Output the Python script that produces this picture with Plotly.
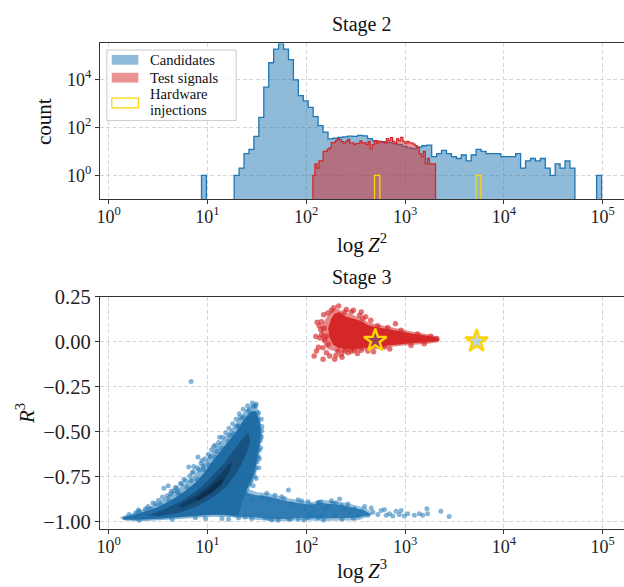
import numpy as np
import plotly.graph_objects as go

# ---------------- Stage 2 : histograms of log Z^2 ----------------
# candidates: 0.05-decade logarithmic bins for the main block
cand_log_start = 1.27
cand_log_width = 0.05
cand_counts = [1, 2, 8, 12, 42, 257, 4700, 49000, 182000, 305000,
               182000, 66000, 9500, 2100, 1260, 680, 280, 118, 63, 33,
               35, 38, 40, 43, 42, 46, 44, 34, 28, 26,
               25, 23, 21, 19, 16, 14, 13, 15, 17, 18,
               6, 8, 11, 8, 6, 5, 7, 4, 7, 12,
               10, 8, 8, 8, 6, 6, 6, 8, 2, 4,
               5, 4, 5, 2, 1, 3, 2, 4, 2]
# two isolated candidate bins
cand_iso_lo = [8.7, 87000]
cand_iso_hi = [9.75, 97700]
cand_iso_counts = [1, 1]

# test signals
sig_log_lo, sig_log_hi = 2.067, 3.309
sig_counts = [1, 3, 2, 4, 4, 10, 10, 12, 14, 23,
              23, 28, 34, 30, 25, 22, 26, 31, 22, 23,
              19, 21, 22, 27, 22, 23, 19, 26, 13, 19,
              28, 22, 26, 24, 23, 22, 34, 28, 37, 26,
              22, 34, 28, 38, 26, 22, 26, 23, 22, 20,
              17, 15, 8, 6, 10, 3, 5, 3, 3, 3]

# hardware injections
hw_lo = [491, 5224]
hw_hi = [556, 5861]
hw_counts = [1, 1]

# ---------------- Stage 3 : log Z^3 vs R^3 ----------------
# candidate population: outer halo, dense body, tail and cores (filled outlines)
cand_halo_z = [1.30, 1.7, 2.3, 2.9, 3.6, 4.5, 5.7, 7.2, 9.0, 10.6,
               12.5, 14.6, 17.0, 19.2, 21.5, 24.2, 27.5, 31.0, 33.8, 35.5,
               34.8, 33.5, 31.8, 29.5, 27.0, 25.0, 22.0, 20.6, 11.1, 7.54,
               5.12, 3.48, 2.36, 1.735, 1.40]
cand_halo_r = [-0.975, -0.955, -0.928, -0.905, -0.872, -0.835, -0.795, -0.745, -0.680, -0.625,
               -0.578, -0.535, -0.490, -0.455, -0.415, -0.380, -0.352, -0.352, -0.400, -0.490,
               -0.560, -0.625, -0.690, -0.760, -0.810, -0.845, -0.900, -0.975, -0.972, -0.978,
               -0.985, -0.990, -0.995, -0.995, -0.990]
cand_body_z = [1.375, 1.735, 2.364, 2.981, 3.759, 4.743, 5.98, 7.54, 9.51, 11.10,
               12.96, 15.12, 17.66, 19.83, 22.27, 25.00, 28.08, 30.81, 33.30, 34.86,
               33.81, 32.28, 30.81, 28.51, 25.99, 24.43, 22.0, 20.6, 11.1, 7.54,
               5.12, 3.48, 2.36, 1.735, 1.43]
cand_body_r = [-0.977, -0.964, -0.942, -0.924, -0.897, -0.865, -0.828, -0.783, -0.720, -0.666,
               -0.620, -0.575, -0.530, -0.494, -0.449, -0.412, -0.385, -0.385, -0.430, -0.503,
               -0.566, -0.629, -0.693, -0.756, -0.801, -0.837, -0.900, -0.964, -0.961, -0.968,
               -0.975, -0.982, -0.988, -0.989, -0.986]
cand_tail_halo_z = [20.0, 26.0, 32.0, 42.0, 60.0, 85.0, 115, 145, 245, 400,
                    480, 340, 145, 85, 52, 32, 18]
cand_tail_halo_r = [-0.88, -0.818, -0.836, -0.842, -0.866, -0.879, -0.890, -0.878, -0.893, -0.922,
                    -0.958, -0.992, -0.995, -0.992, -0.997, -0.990, -0.975]
cand_tail_z = [17.0, 24.43, 30.81, 41.98, 60.85, 82.9, 112.9, 142.6, 244, 389,
               454, 333, 142.6, 82.9, 52.1, 32.8, 20.6, 15.0]
cand_tail_r = [-0.90, -0.837, -0.852, -0.859, -0.883, -0.895, -0.906, -0.895, -0.910, -0.937,
               -0.960, -0.978, -0.982, -0.979, -0.986, -0.977, -0.970, -0.962]
cand_core1_z = [2.55, 3.76, 5.54, 8.15, 11.1, 15.12, 19.08, 23.14, 25.99, 27.02,
                24.06, 20.61, 16.34, 12.0, 8.15, 5.12, 3.22]
cand_core1_r = [-0.964, -0.928, -0.883, -0.819, -0.747, -0.666, -0.593, -0.530, -0.503, -0.557,
                -0.638, -0.711, -0.792, -0.855, -0.910, -0.950, -0.969]
cand_core2_z = [5.12, 7.54, 10.3, 12.96, 15.72, 17.66, 16.99, 14.55, 11.1, 7.54, 5.54]
cand_core2_r = [-0.910, -0.855, -0.801, -0.747, -0.693, -0.666, -0.711, -0.774, -0.837, -0.892, -0.924]
cand_core3_z = [7.54, 10.3, 12.96, 14.55, 14.0, 11.1, 8.15]
cand_core3_r = [-0.874, -0.819, -0.774, -0.756, -0.792, -0.837, -0.883]

# individual candidates around the body and along the tail
cand_pts_z = [6.82, 3.62, 4.74, 5.32, 4.22, 6.46, 7.26, 8.15, 8.80, 6.98,
              11.54, 13.26, 10.68, 5.75, 4.56, 2.98, 2.36, 1.875, 21.4, 24.06,
              27.02, 29.2, 30.8, 32.8, 35.4, 34.3, 32.8, 30.8, 29.9, 26.4,
              66.0, 39.8, 48.3, 56.3, 82.9, 104.6, 131.9, 42.0, 52.1, 20.6,
              7.54, 14.0, 24.06, 82.9, 131.9, 112.9, 71.0, 42.0, 35.4, 28.08,
              23.14, 1.735, 1.486, 2.19,
              1.606, 2.026, 2.655, 3.348, 4.062, 5.12, 6.218, 7.839, 9.15, 10.27,
              11.99, 14.0, 16.34, 18.35, 20.61, 23.14, 25.99, 32.28, 34.59, 33.30,
              31.78, 29.64, 27.65,
              2.026, 4.39, 9.51, 16.34, 28.08, 38.24, 66.0, 104.6,
              96.7, 113, 132, 153.8, 179.6, 186.8, 217.8, 194, 244.5, 285.7,
              308.5, 360.4, 421, 454.4, 472.6, 573, 643.8, 694.9, 811.6, 876.1,
              984, 1065, 1241, 1394, 1508, 1666, 1693, 2306, 2795, 104.6,
              121.9, 142.5, 166.4, 226.5, 264.7, 333.8, 389, 531, 618.6, 751.6,
              911.5,
              2.0, 2.5, 2.8, 3.2, 3.9, 4.3, 4.9, 5.5, 6.0, 6.6,
              7.2, 7.9, 8.6, 9.4, 10.2, 11.0, 12.0, 13.0, 14.2, 15.3,
              16.5, 18.0, 19.5, 21.0, 23.0, 25.5, 28.5, 31.0, 35.0, 35.5,
              35.0, 34.5, 33.5, 33.0, 31.0, 29.0, 3.5, 5.0, 6.8, 9.0,
              12.5, 17.0, 20.0, 4.0, 8.0,
              45, 70, 95, 150, 230, 300, 60, 90, 140, 200]
cand_pts_r = [-0.221, -0.814, -0.810, -0.787, -0.846, -0.696, -0.693, -0.711, -0.660, -0.729,
              -0.581, -0.530, -0.638, -0.765, -0.828, -0.900, -0.928, -0.950, -0.421, -0.439,
              -0.403, -0.358, -0.355, -0.394, -0.494, -0.548, -0.638, -0.702, -0.747, -0.792,
              -0.823, -0.841, -0.852, -0.861, -0.877, -0.888, -0.901, -0.982, -0.991, -0.978,
              -0.978, -0.982, -0.973, -0.986, -0.978, -0.964, -0.900, -0.883, -0.864, -0.874,
              -0.837, -0.973, -0.979, -0.960,
              -0.960, -0.941, -0.928, -0.906, -0.883, -0.846, -0.810, -0.765, -0.711, -0.684,
              -0.642, -0.593, -0.552, -0.512, -0.467, -0.421, -0.382, -0.458, -0.521, -0.602,
              -0.666, -0.720, -0.774,
              -0.991, -0.986, -0.982, -0.986, -0.982, -0.977, -0.986, -0.977,
              -0.928, -0.910, -0.892, -0.928, -0.883, -0.897, -0.874, -0.964, -0.932, -0.955,
              -0.928, -0.942, -0.964, -0.924, -0.946, -0.937, -0.964, -0.955, -0.942, -0.960,
              -0.968, -0.955, -0.964, -0.955, -0.964, -0.928, -0.955, -0.942, -0.970, -0.955,
              -0.937, -0.964, -0.915, -0.910, -0.901, -0.964, -0.915, -0.960, -0.932, -0.968,
              -0.937,
              -0.935, -0.915, -0.895, -0.880, -0.855, -0.830, -0.812, -0.790, -0.770, -0.745,
              -0.720, -0.700, -0.675, -0.650, -0.625, -0.600, -0.575, -0.560, -0.530, -0.505,
              -0.480, -0.455, -0.430, -0.400, -0.375, -0.355, -0.340, -0.345, -0.430, -0.470,
              -0.530, -0.590, -0.650, -0.700, -0.760, -0.800, -0.862, -0.835, -0.770, -0.690,
              -0.610, -0.520, -0.470, -0.800, -0.640,
              -0.990, -0.985, -0.990, -0.990, -0.985, -0.980, -0.870, -0.885, -0.890, -0.895]

# test signals: halo, dense region and scattered points
sig_halo_z = [140, 160, 180, 205, 240, 290, 350, 420, 530, 670,
              910, 1240, 1700, 2150, 2250, 2150, 1700, 1240, 910, 670,
              530, 420, 330, 260, 200, 165, 145]
sig_halo_r = [0.080, 0.135, 0.175, 0.185, 0.165, 0.150, 0.135, 0.110, 0.095, 0.085,
              0.070, 0.055, 0.042, 0.028, 0.012, -0.002, -0.010, -0.016, -0.022, -0.030,
              -0.040, -0.045, -0.050, -0.058, -0.055, -0.040, 0.000]
sig_body_z = [166.3, 179.7, 194.1, 218.0, 254.4, 308.7, 360.4, 420.7, 530.5, 669.1,
              911.5, 1242, 1692, 2134, 2201, 2134, 1692, 1242, 911.5, 669.1,
              530.5, 420.7, 333.6, 264.5, 209.7, 186.7, 172.8]
sig_body_r = [0.076, 0.130, 0.157, 0.166, 0.139, 0.127, 0.116, 0.094, 0.080, 0.071,
              0.058, 0.043, 0.034, 0.022, 0.011, 0.004, -0.002, -0.007, -0.013, -0.020,
              -0.029, -0.033, -0.038, -0.042, -0.033, -0.014, 0.022]
sig_pts_z = [120.2, 128.8, 142.5, 179.7, 212.9, 244.8, 140.3, 148.1, 160.0, 194.1,
             137.1, 153.9, 172.8, 226.5, 264.5, 285.7, 346.7, 360.4, 374.6, 142.5,
             151.6, 166.3, 209.7, 244.8, 308.7, 420.7, 186.7, 160.0, 126.8, 148.1,
             530.5, 669, 911, 1341, 1828, 2101, 619, 1149, 1566, 285.7, 360.4,
             125, 133, 135, 150, 165, 190, 200, 230, 255, 300,
             330, 400, 450, 480, 700, 800]
sig_pts_r = [-0.078, 0.109, 0.112, 0.175, 0.199, 0.166, 0.067, -0.033, -0.060, -0.096,
             0.022, 0.013, -0.078, -0.069, -0.060, 0.166, 0.148, 0.166, 0.130, 0.040,
             0.076, -0.014, -0.051, -0.051, -0.047, -0.051, 0.058, 0.031, -0.051, -0.096,
             0.090, 0.080, 0.065, 0.043, 0.031, 0.018, -0.029, -0.020, -0.011, -0.054, -0.047,
             0.030, -0.030, 0.090, 0.150, 0.160, 0.190, -0.075, -0.085, 0.180, 0.175,
             -0.065, 0.140, 0.120, -0.055, -0.040, 0.100]

# hardware injections
hw_z = [500, 5300]
hw_r = [0.007, 0.004]

# ---------------- helpers ----------------
BASE = 1e-3  # below the visible range of the log count axis


def step_path(lo, hi, counts):
    """Closed step outline of a histogram (stepfilled style)."""
    xs, ys = [], []
    prev = None
    for l, h, c in zip(lo, hi, counts):
        c = c if c > 0 else BASE
        if prev is None or not np.isclose(l, prev):
            if prev is not None:
                xs.append(prev)
                ys.append(BASE)
            xs.append(l)
            ys.append(BASE)
        xs += [l, h]
        ys += [c, c]
        prev = h
    xs.append(prev)
    ys.append(BASE)
    return xs, ys


main_edges = 10 ** (cand_log_start + cand_log_width * np.arange(len(cand_counts) + 1))
cand_lo = [cand_iso_lo[0]] + list(main_edges[:-1]) + [cand_iso_lo[1]]
cand_hi = [cand_iso_hi[0]] + list(main_edges[1:]) + [cand_iso_hi[1]]
cand_all = [cand_iso_counts[0]] + cand_counts + [cand_iso_counts[1]]

sig_edges = np.logspace(sig_log_lo, sig_log_hi, len(sig_counts) + 1)

BLUE = "#1f77b4"
RED = "#d62728"
GOLD = "#ffd400"
FONT = "Liberation Serif"

fig = go.Figure()

cx, cy = step_path(cand_lo, cand_hi, cand_all)
fig.add_trace(go.Scatter(x=cx, y=cy, mode="lines", fill="toself",
                         fillcolor="rgba(31,119,180,0.5)",
                         line=dict(color=BLUE, width=1.3),
                         xaxis="x", yaxis="y", hoverinfo="skip", showlegend=False))
sx, sy = step_path(sig_edges[:-1], sig_edges[1:], sig_counts)
fig.add_trace(go.Scatter(x=sx, y=sy, mode="lines", fill="toself",
                         fillcolor="rgba(214,39,40,0.5)",
                         line=dict(color=RED, width=1.3),
                         xaxis="x", yaxis="y", hoverinfo="skip", showlegend=False))
hx, hy = step_path(hw_lo, hw_hi, hw_counts)
fig.add_trace(go.Scatter(x=hx, y=hy, mode="lines",
                         line=dict(color=GOLD, width=1.3),
                         xaxis="x", yaxis="y", hoverinfo="skip", showlegend=False))


# Stage 3 scatter
def region(z, r, color):
    fig.add_trace(go.Scatter(x=z, y=r, mode="none", fill="toself", fillcolor=color,
                             xaxis="x2", yaxis="y2", hoverinfo="skip", showlegend=False))


region(cand_tail_halo_z, cand_tail_halo_r, "rgba(31,119,180,0.45)")
region(cand_halo_z, cand_halo_r, "rgba(31,119,180,0.55)")
region(cand_tail_z, cand_tail_r, "rgba(31,112,172,0.85)")
region(cand_body_z, cand_body_r, "rgb(32,108,165)")
region(cand_core1_z, cand_core1_r, "rgba(12,45,75,0.40)")
region(cand_core2_z, cand_core2_r, "rgba(10,40,65,0.45)")
region(cand_core3_z, cand_core3_r, "rgba(8,32,52,0.50)")

fig.add_trace(go.Scatter(x=cand_pts_z, y=cand_pts_r, mode="markers",
                         marker=dict(color="rgba(31,119,180,0.55)", size=5, line=dict(width=0)),
                         xaxis="x2", yaxis="y2", hoverinfo="skip", showlegend=False))

region(sig_halo_z, sig_halo_r, "rgba(214,39,40,0.55)")
region(sig_body_z, sig_body_r, "rgb(214,39,40)")
fig.add_trace(go.Scatter(x=sig_pts_z, y=sig_pts_r, mode="markers",
                         marker=dict(color="rgba(214,39,40,0.65)", size=5.5, line=dict(width=0)),
                         xaxis="x2", yaxis="y2", hoverinfo="skip", showlegend=False))

fig.add_trace(go.Scatter(x=hw_z, y=hw_r, mode="markers",
                         marker=dict(symbol="star", size=17, color="rgba(31,119,180,0.3)",
                                     line=dict(color=GOLD, width=2.4)),
                         xaxis="x2", yaxis="y2", hoverinfo="skip", showlegend=False))

# ---------------- axes ----------------
decades = [1, 10, 100, 1000, 10000, 100000]
decade_txt = ["10<sup>%d</sup>" % k for k in range(6)]

common = dict(showline=True, linecolor="#333333", linewidth=1,
              ticks="outside", ticklen=4, tickwidth=1, tickcolor="#333333",
              showgrid=True, gridcolor="#d6d6d6", griddash="4px,2.5px", gridwidth=1,
              zeroline=False, tickfont=dict(family=FONT, size=18, color="#222222"))

x_dom = [97.3 / 624, 1.0]
fig.update_layout(
    width=624, height=587,
    margin=dict(l=0, r=0, t=0, b=0),
    paper_bgcolor="white", plot_bgcolor="white",
    showlegend=False,
    xaxis=dict(common, type="log", range=[-0.090, 5.217], domain=x_dom, anchor="y",
               tickvals=decades, ticktext=decade_txt, mirror=True, ticklabelstandoff=-3),
    yaxis=dict(common, type="log", range=[-0.993, 5.493], domain=[0.6717, 0.9433],
               anchor="x", tickvals=[1, 100, 10000],
               ticktext=["10<sup>0</sup>", "10<sup>2</sup>", "10<sup>4</sup>"]),
    xaxis2=dict(common, type="log", range=[-0.090, 5.217], domain=x_dom, anchor="y2",
                tickvals=decades, ticktext=decade_txt, mirror=True, ticklabelstandoff=-3),
    yaxis2=dict(common, range=[-1.042, 0.251], domain=[0.0954, 0.5014], anchor="x2",
                tickvals=[0.25, 0.0, -0.25, -0.5, -0.75, -1.0],
                ticktext=["0.25", "0.00", "\u22120.25", "\u22120.50", "\u22120.75", "\u22121.00"],
                tickfont=dict(family=FONT, size=20.5, color="#222222")),
)

# ---------------- titles ----------------
xc = (97.3 + 624) / 2 / 624


def label(text, x, y, size, angle=0):
    fig.add_annotation(text=text, x=x, y=y, xref="paper", yref="paper",
                       xanchor="center", yanchor="middle", showarrow=False,
                       textangle=angle, font=dict(family=FONT, size=size, color="#111111"))


label("Stage 2", xc, 1 - 14 / 587, 20)
label("Stage 3", xc, 1 - 273.4 / 587, 20)
label("log\u2009<i>Z</i><sup>2</sup>", xc, 1 - 238 / 587, 21)
label("log\u2009<i>Z</i><sup>3</sup>", xc, 1 - 571.7 / 587, 21)
label("count", 42 / 624, 1 - 113 / 587, 21, -90)
label("<i>R</i><sup>3</sup>", 22 / 624, 1 - 412 / 587, 21, -90)

# ---------------- legend ----------------
fig.add_shape(type="rect", xref="paper", yref="paper",
              x0=104.3 / 624, x1=234.3 / 624, y0=1 - 112.3 / 587, y1=1 - 40 / 587,
              line=dict(color="#cccccc", width=1), fillcolor="rgba(255,255,255,0.8)",
              layer="above")
patches = [
    (45, 55, "rgba(31,119,180,0.5)", None),
    (63.3, 73.3, "rgba(214,39,40,0.5)", None),
    (89.3, 99.3, "rgba(0,0,0,0)", GOLD),
]
for top, bot, fc, lc in patches:
    fig.add_shape(type="rect", xref="paper", yref="paper",
                  x0=109.3 / 624, x1=136 / 624, y0=1 - bot / 587, y1=1 - top / 587,
                  fillcolor=fc, line=dict(color=lc or "rgba(0,0,0,0)", width=1.2 if lc else 0),
                  layer="above")
for txt, yc in [("Candidates", 50.2), ("Test signals", 68.3),
                ("Hardware", 85.2), ("injections", 101.6)]:
    fig.add_annotation(text=txt, x=146.7 / 624, y=1 - yc / 587, xref="paper", yref="paper",
                       xanchor="left", yanchor="middle", showarrow=False, borderpad=0,
                       font=dict(family=FONT, size=14.6, color="#111111"))

fig.write_html("out.html")
